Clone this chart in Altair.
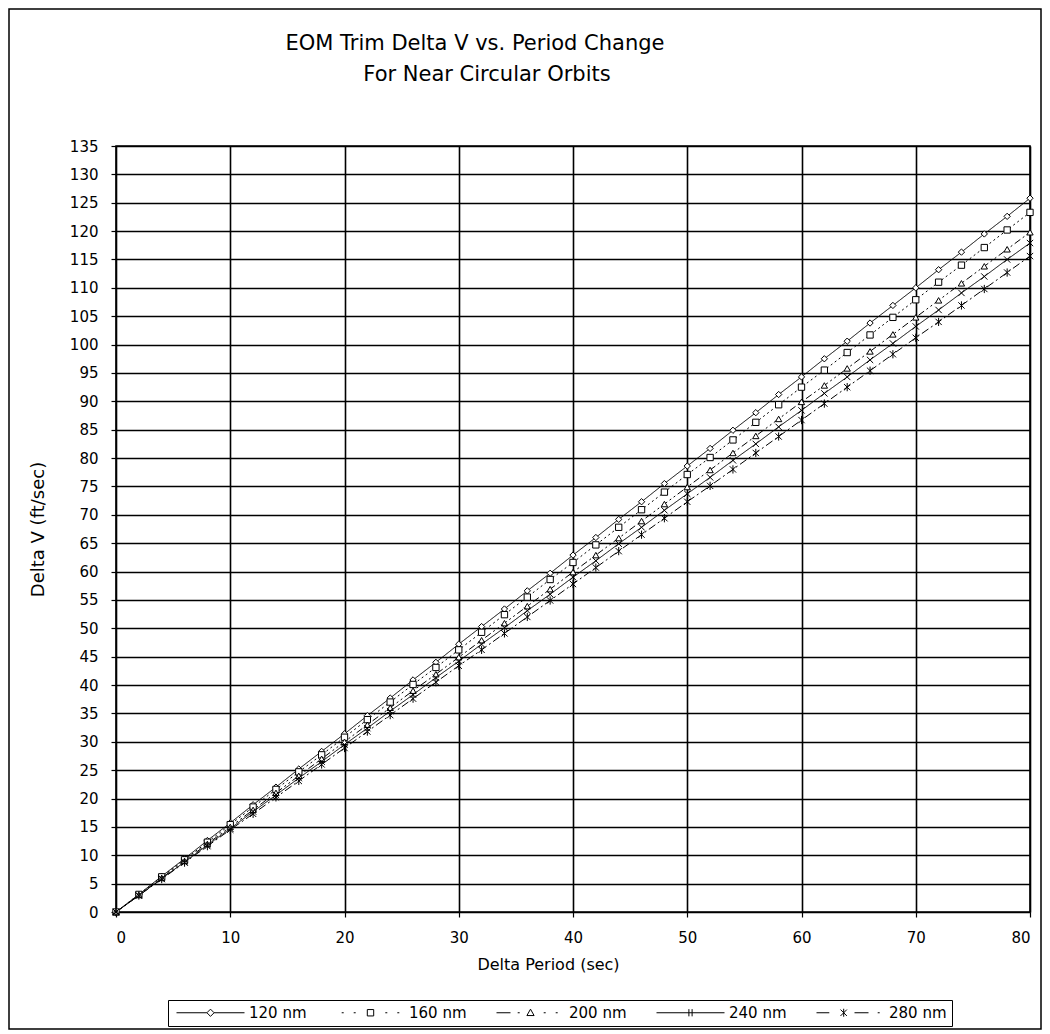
import altair as alt
import pandas as pd

delta_period = list(range(0, 81, 2))
series_names = ["120 nm", "160 nm", "200 nm", "240 nm", "280 nm"]
title_lines = ["EOM Trim Delta V vs. Period Change", "For Near Circular Orbits"]

dv_120 = [0.0, 3.1, 6.3, 9.4, 12.6, 15.7, 18.9, 22.0, 25.2, 28.3, 31.4, 34.6, 37.7, 40.9,
          44.0, 47.2, 50.3, 53.4, 56.6, 59.7, 62.9, 66.0, 69.2, 72.3, 75.5, 78.6, 81.7,
          84.9, 88.0, 91.2, 94.3, 97.5, 100.6, 103.8, 106.9, 110.0, 113.2, 116.3, 119.5,
          122.6, 125.8]
dv_160 = [0.0, 3.1, 6.2, 9.2, 12.3, 15.4, 18.5, 21.6, 24.7, 27.7, 30.8, 33.9, 37.0, 40.1,
          43.1, 46.2, 49.3, 52.4, 55.5, 58.6, 61.6, 64.7, 67.8, 70.9, 74.0, 77.1, 80.1,
          83.2, 86.3, 89.4, 92.5, 95.5, 98.6, 101.7, 104.8, 107.9, 111.0, 114.0, 117.1,
          120.2, 123.3]
dv_200 = [0.0, 3.0, 6.0, 9.0, 12.0, 15.0, 18.0, 21.0, 24.0, 27.0, 30.0, 33.0, 36.0, 39.0,
          41.9, 44.9, 47.9, 50.9, 53.9, 56.9, 59.9, 62.9, 65.9, 68.9, 71.9, 74.9, 77.9,
          80.9, 83.9, 86.9, 89.9, 92.8, 95.8, 98.8, 101.8, 104.8, 107.8, 110.8, 113.8,
          116.8, 119.8]
dv_240 = [0.0, 2.9, 5.9, 8.8, 11.8, 14.7, 17.7, 20.6, 23.6, 26.5, 29.5, 32.4, 35.4, 38.3,
          41.3, 44.2, 47.2, 50.1, 53.1, 56.0, 59.0, 61.9, 64.9, 67.8, 70.8, 73.7, 76.6,
          79.6, 82.5, 85.5, 88.4, 91.4, 94.3, 97.3, 100.2, 103.2, 106.1, 109.1, 112.0,
          115.0, 117.9]
dv_280 = [0.0, 2.9, 5.8, 8.7, 11.6, 14.5, 17.3, 20.2, 23.1, 26.0, 28.9, 31.8, 34.7, 37.6,
          40.5, 43.4, 46.2, 49.1, 52.0, 54.9, 57.8, 60.7, 63.6, 66.5, 69.4, 72.3, 75.1,
          78.0, 80.9, 83.8, 86.7, 89.6, 92.5, 95.4, 98.3, 101.2, 104.0, 106.9, 109.8,
          112.7, 115.6]

rows = []
for name, vals in zip(series_names, [dv_120, dv_160, dv_200, dv_240, dv_280]):
    for p, v in zip(delta_period, vals):
        rows.append({"series": name, "period": p, "dv": v})
df = pd.DataFrame(rows)

FONT = "DejaVu Sans"

xs = alt.Scale(domain=[0, 80], nice=False, zero=False)
ys = alt.Scale(domain=[0, 135], nice=False, zero=False)

dash_scale = alt.Scale(domain=series_names,
                       range=[[1, 0], [2, 3], [7, 3, 2, 3, 2, 3], [1, 0], [8, 3, 2, 3]])

# plot markers (unit paths)
X_MARK = "M-1,-1L1,1M-1,1L1,-1"
STAR_MARK = "M-1,-1L1,1M-1,1L1,-1M0,-1.3L0,1.3"
shape_scale = alt.Scale(domain=series_names,
                        range=["diamond", "square", "triangle-up", X_MARK, STAR_MARK])

# legend keys: line sample with the marker (units of 4 px, from -1 to 16)
leg_120 = "M-1,0L6.6,0M8.4,0L16,0M7.5,-0.9L8.4,0L7.5,0.9L6.6,0Z"
leg_160 = ("M0.3,0L0.8,0M3.3,0L3.8,0"
           "M6.7,-0.8L8.3,-0.8L8.3,0.8L6.7,0.8Z"
           "M11.2,0L11.7,0M14.2,0L14.7,0")
leg_200 = ("M-1,0L2.5,0M4.3,0L4.8,0"
           "M7.5,-0.9L8.4,0.7L6.6,0.7Z"
           "M10.8,0L11.3,0M13.8,0L14.3,0")
leg_240 = "M-1,0L16,0M7.1,-0.9L7.1,0.9M7.9,-0.9L7.9,0.9"
leg_280 = ("M-1,0L2.2,0"
           "M5,-0.8L6.6,0.8M5,0.8L6.6,-0.8M5.8,-1L5.8,1"
           "M8.5,0L12,0M14.3,0L14.8,0")
legend_scale = alt.Scale(domain=series_names,
                         range=[leg_120, leg_160, leg_200, leg_240, leg_280])

x_enc = alt.X("period:Q", scale=xs,
              axis=alt.Axis(title="Delta Period (sec)", values=list(range(0, 81, 10)),
                            titleX=432, titleAlign="center"))
y_enc = alt.Y("dv:Q", scale=ys,
              axis=alt.Axis(title="Delta V (ft/sec)", values=list(range(0, 136, 5))))

lines = alt.Chart(df).mark_line(color="black", strokeWidth=1).encode(
    x=x_enc, y=y_enc,
    strokeDash=alt.StrokeDash("series:N", scale=dash_scale, legend=None),
    detail="series:N",
)
points = alt.Chart(df).mark_point(filled=False, fill="white", fillOpacity=1,
                                  stroke="black", strokeWidth=1, size=40, opacity=1).encode(
    x=x_enc, y=y_enc,
    shape=alt.Shape("series:N", scale=shape_scale, legend=None),
)

legend = alt.Legend(title=None, orient="none", legendX=52, legendY=854,
                    direction="horizontal", columns=5, strokeColor="black",
                    padding=5, labelFont=FONT, labelFontSize=15, labelColor="black",
                    symbolStrokeColor="black", symbolFillColor="white",
                    symbolSize=64, symbolStrokeWidth=1, symbolOpacity=1,
                    columnPadding=26, labelOffset=61)
legend_keys = alt.Chart(df).transform_filter("datum.period == 0").mark_point(
    opacity=0, filled=False, stroke="black", size=64).encode(
    x=x_enc, y=y_enc,
    shape=alt.Shape("series:N", scale=legend_scale, legend=legend),
)

frame = alt.Chart(alt.Data(values=[{"a": 1}])).mark_rect(
    fill="transparent", stroke="black", strokeWidth=1.5).encode(
    x=alt.value(-107), x2=alt.value(925), y=alt.value(-137), y2=alt.value(883))

title1 = alt.Chart(alt.Data(values=[{"t": title_lines[0]}])).mark_text(
    font=FONT, fontSize=21, color="black", align="center", baseline="middle").encode(
    text="t:N", x=alt.value(475 - 116), y=alt.value(44 - 146))
title2 = alt.Chart(alt.Data(values=[{"t": title_lines[1]}])).mark_text(
    font=FONT, fontSize=21, color="black", align="center", baseline="middle").encode(
    text="t:N", x=alt.value(487 - 116), y=alt.value(75 - 146))

chart = alt.layer(lines, points, legend_keys, frame, title1, title2).resolve_scale(
    shape="independent"
).properties(
    width=914, height=766,
    autosize=alt.AutoSizeParams(type="none"),
    padding={"left": 108, "top": 138, "right": 12, "bottom": 118},
    background="white",
).configure_view(stroke="black", strokeWidth=1.6).configure_axis(
    grid=True, gridColor="black", gridWidth=1.6, gridOpacity=1,
    domain=False, tickColor="black", tickSize=5, tickWidth=1.2,
    labelFont=FONT, labelFontSize=15, labelColor="black",
    titleFont=FONT, titleFontSize=16, titleFontWeight="normal", titleColor="black",
).configure_axisY(labelPadding=13, titlePadding=22, titleFontSize=18).configure_axisX(
    labelPadding=13, titlePadding=11
)

chart.save("out.html", embed_options={"renderer": "svg", "actions": False})
